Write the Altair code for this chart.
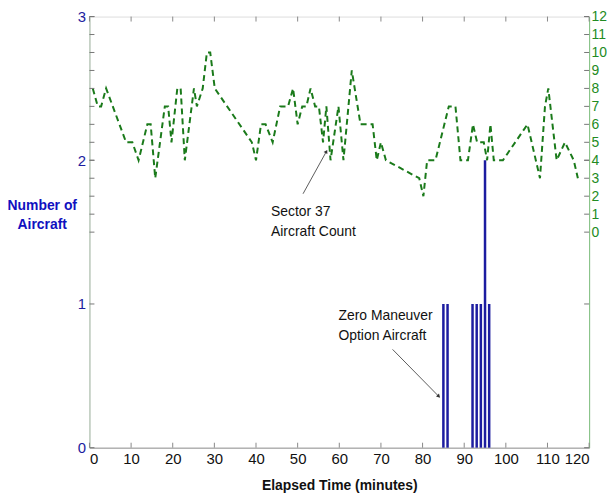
import altair as alt
import pandas as pd

# Sector 37 aircraft count (right axis)
green_time = [0.8, 2.0, 2.8, 4.0, 8.8, 10.3, 11.8, 13.9, 14.7, 15.8, 18.1, 18.9, 19.7,
              21.1, 21.9, 22.9, 25.1, 25.8, 27.2, 28.2, 29.0, 30.1, 39.0, 40.0, 41.2,
              42.3, 44.0, 45.8, 47.7, 48.9, 50.0, 51.1, 52.1, 53.1, 54.2, 55.1, 56.1,
              56.9, 57.9, 59.8, 61.0, 63.0, 65.1, 68.0, 69.0, 70.0, 71.2, 79.2, 80.2,
              81.1, 83.1, 86.3, 87.9, 89.1, 90.9, 92.1, 93.1, 94.7, 95.5, 96.3, 97.1,
              99.3, 105.2, 108.2, 109.4, 110.2, 112.2, 114.2, 116.3, 117.3]
green_count = [8, 7, 7, 8, 5, 5, 4, 6, 6, 3, 7, 7, 5,
               8, 8, 4, 8, 7, 8, 10, 10, 8, 5, 4, 6,
               6, 5, 7, 7, 8, 6, 7, 7, 8, 7, 7, 5,
               7, 4, 7, 4, 9, 6, 6, 4, 5, 4, 3, 2,
               4, 4, 7, 7, 4, 4, 6, 5, 5, 4, 6, 4,
               4, 6, 3, 7, 8, 4, 5, 4, 3]

# Zero maneuver option aircraft (left axis)
blue_time = [85, 86, 92, 93, 94, 95, 96]
blue_count = [1, 1, 1, 1, 1, 2, 1]

x_ticks = list(range(0, 121, 10))
left_ticks = [0, 1, 2, 3]
right_ticks = list(range(0, 13))

ann_text = ["Sector 37\nAircraft Count", "Zero Maneuver\nOption Aircraft"]
ann_x = [43.6, 59.8]
ann_y = [1.69, 0.965]
arrow_x1 = [51.3, 72.8]
arrow_y1 = [1.767, 0.684]
arrow_x2 = [56.9, 83.9]
arrow_y2 = [2.061, 0.357]
arrow_angle = [29, 135]

W, H = 503, 434
FONT = "Liberation Sans Narrow, Arial Narrow, Liberation Sans, Arial"
BLUE = "#1c1ca0"
GREEN = "#1a7a1a"

xs = alt.Scale(domain=[0, 120], nice=False)
ys_left = alt.Scale(domain=[0, 3], nice=False)
ys_right = alt.Scale(domain=[-12, 12], nice=False)

green_df = pd.DataFrame({"t": green_time, "v": green_count})
blue_df = pd.DataFrame({"t": blue_time, "n": blue_count, "base": [0] * len(blue_time)})
lt_df = pd.DataFrame({"n": left_ticks})
rt_df = pd.DataFrame({"v": right_ticks})
xt_df = pd.DataFrame({"t": x_ticks})
ann_df = pd.DataFrame({"t": ann_x, "n": ann_y, "label": ann_text})
arr_df = pd.DataFrame({"t": arrow_x1, "n": arrow_y1, "t2": arrow_x2, "n2": arrow_y2,
                       "ang": arrow_angle})

x_axis = alt.Axis(values=x_ticks, tickSize=0, grid=False, title="Elapsed Time (minutes)",
                  labelFont=FONT, labelFontSize=15, labelColor="#111", labelPadding=4,
                  titleFont=FONT, titleFontSize=14, titleFontWeight="bold", titleColor="#111",
                  titlePadding=12, domainColor="#999")
left_axis = alt.Axis(values=left_ticks, tickSize=0, grid=False, title=["Number of", "Aircraft"],
                     labelFont=FONT, labelFontSize=15, labelColor=BLUE, labelPadding=4,
                     titleFont=FONT, titleFontSize=14, titleFontWeight="bold", titleColor="#1010c0",
                     titleAngle=0, titleAlign="center", titleBaseline="top", titleX=-48, titleY=183,
                     titleLineHeight=19, domainColor="#a8bca8")
right_axis = alt.Axis(values=right_ticks, tickSize=0, grid=False, title="", orient="right",
                      labelFont=FONT, labelFontSize=14, labelColor="#228b22", labelPadding=2,
                      domainColor="#7fbf7f")

X = lambda f: alt.X(f, scale=xs, axis=x_axis)
YL = lambda f: alt.Y(f, scale=ys_left, axis=left_axis)
YR = lambda f: alt.Y(f, scale=ys_right, axis=right_axis)

blue = alt.Chart(blue_df).mark_rule(color=BLUE, strokeWidth=2.5).encode(
    x=X("t:Q"), y=YL("base:Q"), y2="n:Q")
lt_left = alt.Chart(lt_df).mark_rule(color="#777", strokeWidth=1).encode(
    x=alt.value(0), x2=alt.value(5), y=YL("n:Q"))
lt_right = alt.Chart(lt_df).mark_rule(color="#777", strokeWidth=1).encode(
    x=alt.value(W - 5), x2=alt.value(W), y=YL("n:Q"))
xt_bot = alt.Chart(xt_df).mark_rule(color="#888", strokeWidth=1).encode(
    x=X("t:Q"), y=alt.value(H), y2=alt.value(H - 5))
xt_top = alt.Chart(xt_df).mark_rule(color="#888", strokeWidth=1).encode(
    x=X("t:Q"), y=alt.value(0), y2=alt.value(5))
ann = alt.Chart(ann_df).mark_text(align="left", baseline="top", lineBreak="\n", font=FONT,
                                  fontSize=14, lineHeight=20, color="#111").encode(
    x=X("t:Q"), y=YL("n:Q"), text="label:N")
arr = alt.Chart(arr_df).mark_rule(color="#333", strokeWidth=0.8).encode(
    x=X("t:Q"), y=YL("n:Q"), x2="t2:Q", y2="n2:Q")
arr_head = alt.Chart(arr_df).mark_point(shape="triangle-up", filled=True, color="#333",
                                        size=18, opacity=1).encode(
    x=X("t2:Q"), y=YL("n2:Q"), angle=alt.Angle("ang:Q", scale=None))

left_layer = alt.layer(blue, lt_left, lt_right, xt_bot, xt_top, arr, arr_head, ann)

green = alt.Chart(green_df).mark_line(color=GREEN, strokeWidth=2, strokeDash=[6, 4]).encode(
    x=X("t:Q"), y=YR("v:Q"))
rt_left = alt.Chart(rt_df).mark_rule(color="#777", strokeWidth=1).encode(
    x=alt.value(0), x2=alt.value(5), y=YR("v:Q"))
rt_right = alt.Chart(rt_df).mark_rule(color="#777", strokeWidth=1).encode(
    x=alt.value(W - 5), x2=alt.value(W), y=YR("v:Q"))

right_layer = alt.layer(green, rt_left, rt_right)

chart = alt.layer(left_layer, right_layer).resolve_scale(y="independent").properties(
    width=W, height=H,
    autosize=alt.AutoSizeParams(type="none"),
    padding={"left": 82, "top": 7, "right": 18, "bottom": 45},
).configure_view(stroke="#8a8a8a", strokeWidth=1).configure(background="white")

chart.save("out.html", embed_options={"renderer": "svg", "actions": False})
